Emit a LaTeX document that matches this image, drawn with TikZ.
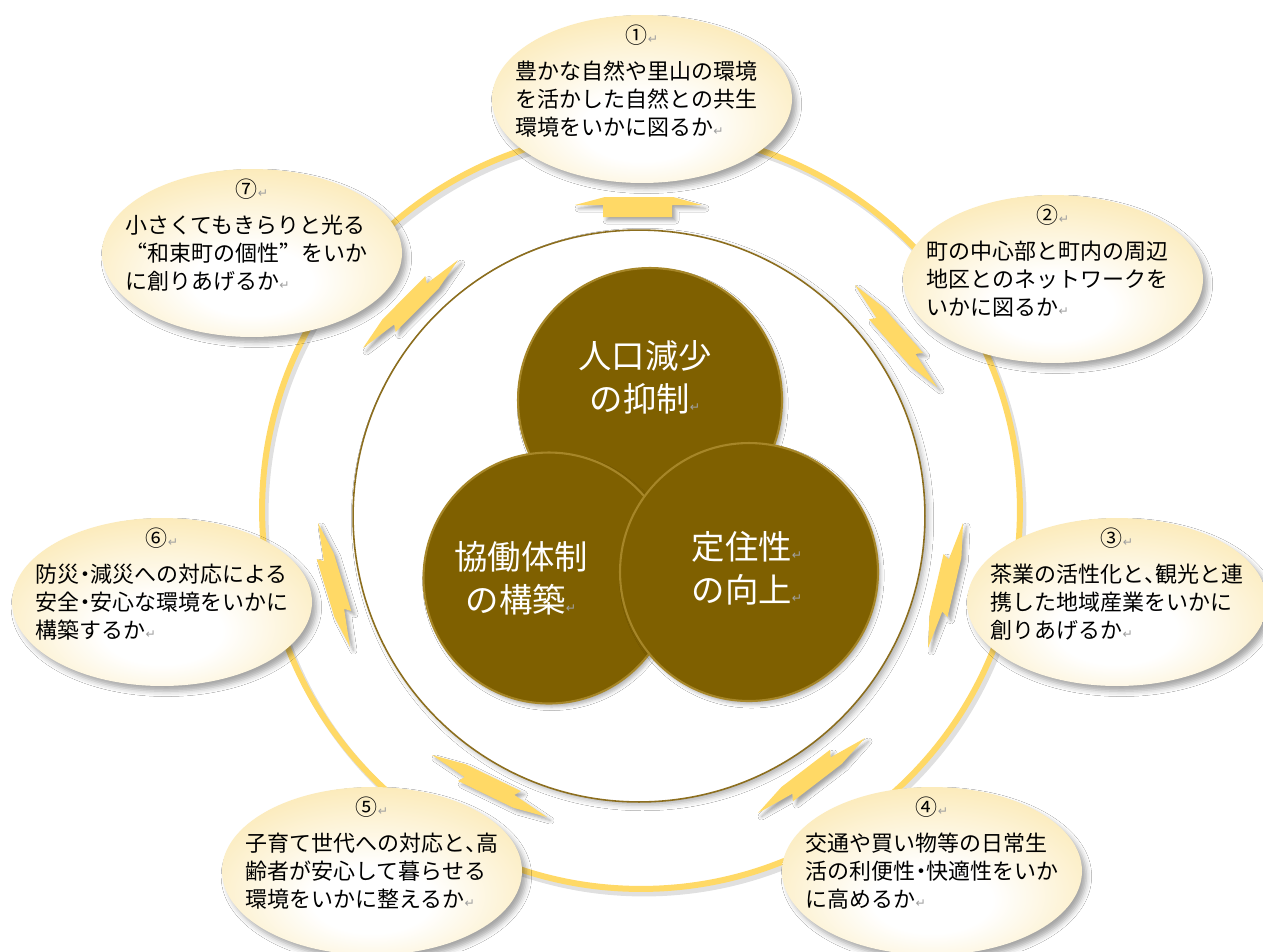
\documentclass[tikz,border=0pt]{standalone}
\usepackage{fontspec}
\setmainfont{Noto Sans CJK JP}
\newfontfamily\jphalt[RawFeature=+halt]{Noto Sans CJK JP}
\newfontfamily\jpfull[RawFeature=+fwid]{Noto Sans CJK JP}
\newfontfamily\markfont{DejaVu Sans}
\usetikzlibrary{shapes.geometric, shadows.blur}
\definecolor{ringgold}{RGB}{255,217,102}
\definecolor{bubbleedge}{RGB}{249,221,140}
\definecolor{corebrown}{RGB}{127,96,0}
\definecolor{corerim}{RGB}{166,134,40}
\definecolor{hubline}{RGB}{140,110,30}
\definecolor{markgray}{RGB}{160,160,160}
\pgfdeclareradialshading{bubbleshade}{\pgfpoint{0bp}{-10bp}}{color(0bp)=(white); color(10bp)=(white); color(45bp)=(bubbleedge); color(70bp)=(bubbleedge)}
\newcommand\pmark{{\markfont\color{markgray}\fontsize{7}{7}\selectfont ↵}}
\newcommand\hw[1]{{\jphalt #1}}
\newcommand\fw[1]{{\jpfull #1}}
\newcommand\num[1]{\makebox[143.75pt]{#1\pmark}}
\tikzstyle{ring} = [draw=ringgold, line width=0.12cm]
\tikzstyle{ringshade} = [draw=black, opacity=0.12, line width=0.14cm]
\tikzstyle{hub} = [circle, minimum size=11.44cm, inner sep=0pt, fill=white, draw=hubline, line width=0.9pt, blur shadow={shadow xshift=2pt, shadow yshift=-2pt, shadow blur radius=3pt, shadow opacity=30}]
\tikzstyle{core} = [circle, inner sep=0pt, fill=corebrown, draw=corerim, line width=1.2pt, blur shadow={shadow xshift=1.5pt, shadow yshift=-2pt, shadow blur radius=2pt, shadow opacity=30}]
\tikzstyle{coretext} = [align=center, text=white, inner sep=0pt, font=\fontsize{19}{24.5}\selectfont]
\tikzstyle{bolt} = [fill=ringgold, blur shadow={shadow xshift=2pt, shadow yshift=-2pt, shadow blur radius=2pt, shadow opacity=35}]
\tikzstyle{bubble} = [ellipse, minimum width=6cm, minimum height=3.36cm, inner sep=0pt, shading=bubbleshade, blur shadow={shadow xshift=2.5pt, shadow yshift=-3pt, shadow blur radius=3pt, shadow opacity=35}]
\tikzstyle{issue} = [text width=143.75pt, align=left, inner sep=0pt, font=\fontsize{12.5}{15.9}\selectfont]

\begin{document}
\begin{tikzpicture}[x=0.02cm, y=-0.02cm]
\path[use as bounding box, fill=white] (0,0) rectangle (1263,951);

% outer ring
\draw[ringshade] (644,514) circle [radius=7.58cm];
\draw[ring] (641,510) circle [radius=7.58cm];

% centre
\node (hub) [hub] at (639,516) {};
\node (pop) [core, minimum size=5.28cm] at (650,400) {};
\node (coop) [core, minimum size=5.02cm] at (549,578) {};
\node (stay) [core, minimum size=5.16cm] at (749,572) {};
\node (poptext) [coretext] at (645,377) {人口減少\\の抑制\pmark};
\node (cooptext) [coretext] at (521,578) {協働体制\\の構築\pmark};
\node (staytext) [coretext] at (747,568) {定住性\pmark\\の向上\pmark};

% arrows on the ring
\fill[bolt] (575,205) -- (605,197) -- (673,197) -- (702,205) -- (672,205) -- (672,217) -- (603,217) -- (603,205) -- cycle;
\foreach \xa/\ya/\xb/\yb in {855/285/937/387, 963/523/928/648, 865/738/758/813, 547/817/432/755, 350/647/318/523, 363/348/458/260}
{
  \pgfmathsetmacro\ang{atan2(\ya-\yb,\xb-\xa)}
  \pgfmathsetmacro\len{veclen(\xb-\xa,\yb-\ya)}
  \begin{scope}[shift={(\xa,\ya)}, rotate=\ang]
    \fill[bolt] (0,0) -- ({0.30*\len},{0.03*\len}) -- ({0.27*\len},{0.08*\len}) -- ({0.74*\len},{0.06*\len}) -- ({\len},0) -- ({0.70*\len},{-0.03*\len}) -- ({0.73*\len},{-0.08*\len}) -- ({0.26*\len},{-0.06*\len}) -- cycle;
  \end{scope}
}

% issues
\node (q1) [bubble] at (642,99) {};
\node (q2) [bubble] at (1053,279) {};
\node (q3) [bubble] at (1117,602) {};
\node (q4) [bubble] at (932,871) {};
\node (q5) [bubble] at (372,871) {};
\node (q6) [bubble] at (162,602) {};
\node (q7) [bubble] at (252,253) {};

\node (t1) [issue] at ([yshift=0.36cm]q1.center) {\num{①}\\[5pt]豊かな自然や里山の環境\\を活かした自然との共生\\環境をいかに図るか\pmark};
\node (t2) [issue] at ([yshift=0.36cm]q2.center) {\num{②}\\[5pt]町の中心部と町内の周辺\\地区とのネットワークを\\いかに図るか\pmark};
\node (t3) [issue] at ([yshift=0.36cm]q3.center) {\num{③}\\[5pt]茶業の活性化と\hw{、}観光と連\\携した地域産業をいかに\\創りあげるか\pmark};
\node (t4) [issue] at ([yshift=0.36cm]q4.center) {\num{④}\\[5pt]交通や買い物等の日常生\\活の利便性\hw{・}快適性をいか\\に高めるか\pmark};
\node (t5) [issue] at ([yshift=0.36cm]q5.center) {\num{⑤}\\[5pt]子育て世代への対応と\hw{、}高\\齢者が安心して暮らせる\\環境をいかに整えるか\pmark};
\node (t6) [issue] at ([yshift=0.36cm]q6.center) {\num{⑥}\\[5pt]防災\hw{・}減災への対応による\\安全\hw{・}安心な環境をいかに\\構築するか\pmark};
\node (t7) [issue] at ([yshift=0.36cm]q7.center) {\num{⑦}\\[5pt]小さくてもきらりと光る\\\fw{“}和束町の個性\fw{”}をいか\\に創りあげるか\pmark};

\end{tikzpicture}
\end{document}
